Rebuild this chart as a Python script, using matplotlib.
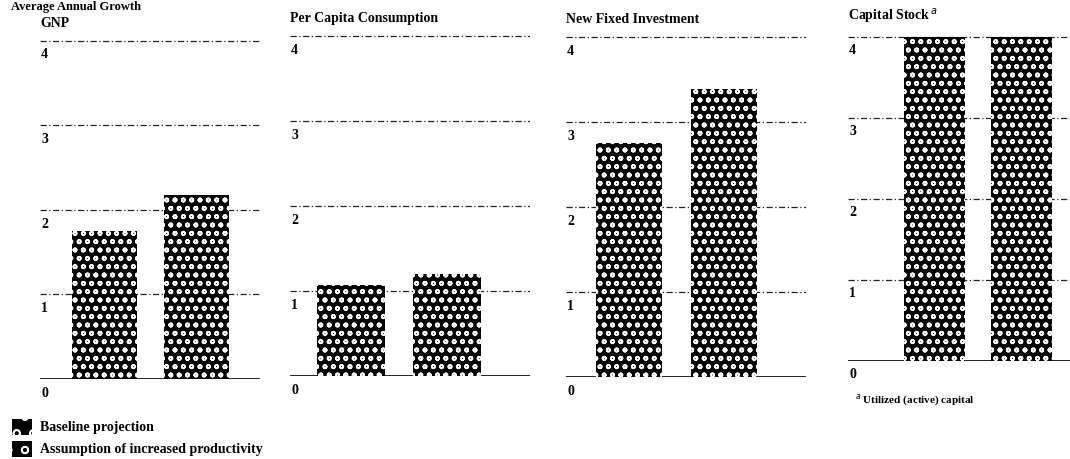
import matplotlib.pyplot as plt
from matplotlib.patches import Rectangle

panels = ["GNP", "Per Capita Consumption", "New Fixed Investment", "Capital Stock"]
baseline = [1.75, 1.07, 2.75, 4.0]
increased = [2.17, 1.2, 3.38, 4.0]
ticks = [0, 1, 2, 3, 4]
legend_labels = ["Baseline projection", "Assumption of increased productivity"]

plt.rcParams["font.family"] = ["Liberation Serif", "DejaVu Serif"]
plt.rcParams["hatch.linewidth"] = 1.2

fig = plt.figure(figsize=(10.7, 4.6), dpi=100)

# axes boxes in figure fractions (left, bottom, width, height)
boxes = [
    (40 / 1070, 1 - 380 / 460, 220 / 1070, 340 / 460),
    (290 / 1070, 1 - 377 / 460, 240 / 1070, 342 / 460),
    (566 / 1070, 1 - 378 / 460, 240 / 1070, 342 / 460),
    (848 / 1070, 1 - 362 / 460, 222 / 1070, 326 / 460),
]
xlims = [(-0.69, 1.68), (-0.635, 1.865), (-0.67, 1.87), (-0.99, 1.56)]

for i, name in enumerate(panels):
    ax = fig.add_axes(boxes[i])
    ax.set_xlim(*xlims[i])
    ax.set_ylim(0, 4.02)
    ax.axis("off")
    for t in ticks[1:]:
        ax.axhline(t, color="#222222", lw=0.9, ls=(0, (5, 2, 1, 2)), zorder=1)
    ax.axhline(0, color="black", lw=1.2, zorder=1)
    ax.bar([0, 1], [baseline[i], increased[i]], width=0.7,
           color="black", edgecolor="white", hatch="oo", lw=0, zorder=2)
    for t in ticks:
        ax.text(0.005, t - 0.08, str(t), fontsize=10, fontweight="bold",
                va="top", ha="left", transform=ax.get_yaxis_transform())
    title = name + ("$^{\\,a}$" if name == "Capital Stock" else "")
    ax.text(0.0, 1.03, title, fontsize=10, fontweight="bold",
            va="bottom", ha="left", transform=ax.transAxes, clip_on=False)

fig.text(0.01, 0.998, "Average Annual Growth", fontsize=9, fontweight="bold",
         va="top", ha="left")

# legend
for j, lab in enumerate(legend_labels):
    y = 1 - (428 + 22 * j) / 460
    fig.patches.append(Rectangle((12 / 1070, y - 0.017), 20 / 1070, 0.034,
                                 transform=fig.transFigure, facecolor="black",
                                 edgecolor="white", hatch="o", lw=0))
    fig.text(40 / 1070, y, lab, fontsize=10, fontweight="bold", va="center")

fig.text(855 / 1070, 1 - 400 / 460, "$^a$ Utilized (active) capital",
         fontsize=8, fontweight="bold", va="center")

plt.savefig("out.png", dpi=100, facecolor="white")
